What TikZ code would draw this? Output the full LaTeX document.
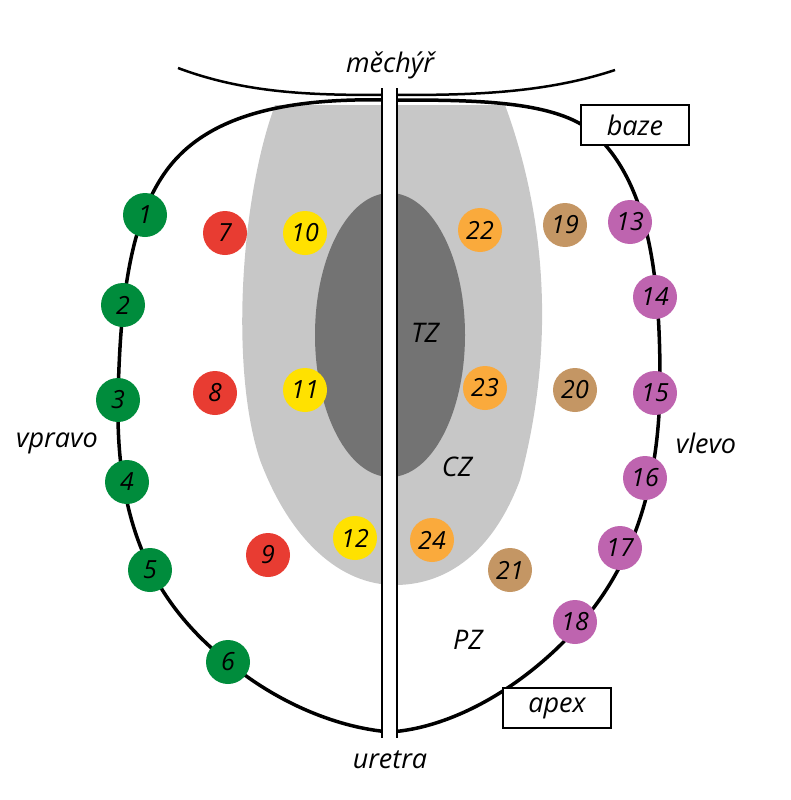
\documentclass[tikz,border=0pt]{standalone}
\usepackage{fontspec}
\setmainfont{Open Sans}
\begin{document}
\begin{tikzpicture}[x=1pt,y=-1pt,
 dot/.style={circle,minimum size=44pt,inner sep=0pt,font=\itshape\fontsize{25}{25}\selectfont},
 lbl/.style={font=\itshape\fontsize{27}{27}\selectfont},
 box/.style={lbl,draw,line width=1.2pt,fill=white,minimum width=108pt,minimum height=40pt}]
\useasboundingbox (0,0) rectangle (790,800);
\definecolor{gr}{RGB}{0,140,60}\definecolor{rd}{RGB}{232,60,50}
\definecolor{ye}{RGB}{255,225,0}\definecolor{or}{RGB}{250,170,60}
\definecolor{br}{RGB}{196,150,100}\definecolor{pu}{RGB}{190,100,175}
% light gray zone
\fill[black!22] (275,105) -- (505,105) .. controls (540,200) and (560,330) .. (520,480) .. controls (490,560) and (440,585) .. (395,585) .. controls (340,585) and (290,540) .. (260,460) .. controls (230,370) and (240,200) .. (275,105) -- cycle;
\fill[black!55] (390,335) ellipse [x radius=75, y radius=142];
% outline
\draw[line width=3.5pt] (390,100) .. controls (300,98) and (220,110) .. (175,160) .. controls (130,210) and (120,300) .. (118,400) .. controls (116,520) and (150,600) .. (228,662) .. controls (280,705) and (340,728) .. (390,732) .. controls (450,728) and (520,690) .. (575,630) .. controls (640,560) and (660,470) .. (660,380) .. controls (660,280) and (650,180) .. (590,130) .. controls (550,100) and (470,100) .. (390,100);
\draw[line width=2.5pt] (178,68) .. controls (250,95) and (320,95) .. (390,95) .. controls (460,95) and (540,95) .. (615,70);
\fill[white] (382,88) rectangle (397,738);
\draw[line width=1.5pt] (382,88) -- (382,738) (397,88) -- (397,738);
% dots
\foreach \n/\x/\y in {1/145/215,2/123/305,3/118/400,4/127/482,5/150/570,6/228/662}
 \node[dot,fill=gr] (g\n) at (\x,\y) {\n};
\foreach \n/\x/\y in {7/225/233,8/215/393,9/268/555}
 \node[dot,fill=rd] (r\n) at (\x,\y) {\n};
\foreach \n/\x/\y in {10/305/233,11/305/390,12/355/538}
 \node[dot,fill=ye] (y\n) at (\x,\y) {\n};
\foreach \n/\x/\y in {22/480/230,23/485/388,24/432/540}
 \node[dot,fill=or] (o\n) at (\x,\y) {\n};
\foreach \n/\x/\y in {19/565/225,20/575/390,21/510/570}
 \node[dot,fill=br] (b\n) at (\x,\y) {\n};
\foreach \n/\x/\y in {13/630/222,14/655/297,15/655/393,16/645/478,17/620/548,18/575/622}
 \node[dot,fill=pu] (p\n) at (\x,\y) {\n};
% labels
\node[lbl] (mech) at (390,65) {měchýř};
\node[lbl] (uret) at (390,760) {uretra};
\node[box] (baze) at (635,125) {baze};
\node[box] (apex) at (557,708) {apex};
\node[lbl] (vpr) at (57,443) {vpravo};
\node[lbl] (vle) at (706,443) {vlevo};
\node[lbl] (tz) at (425,333) {TZ};
\node[lbl] (cz) at (457,467) {CZ};
\node[lbl] (pz) at (468,640) {PZ};
\end{tikzpicture}
\end{document}
